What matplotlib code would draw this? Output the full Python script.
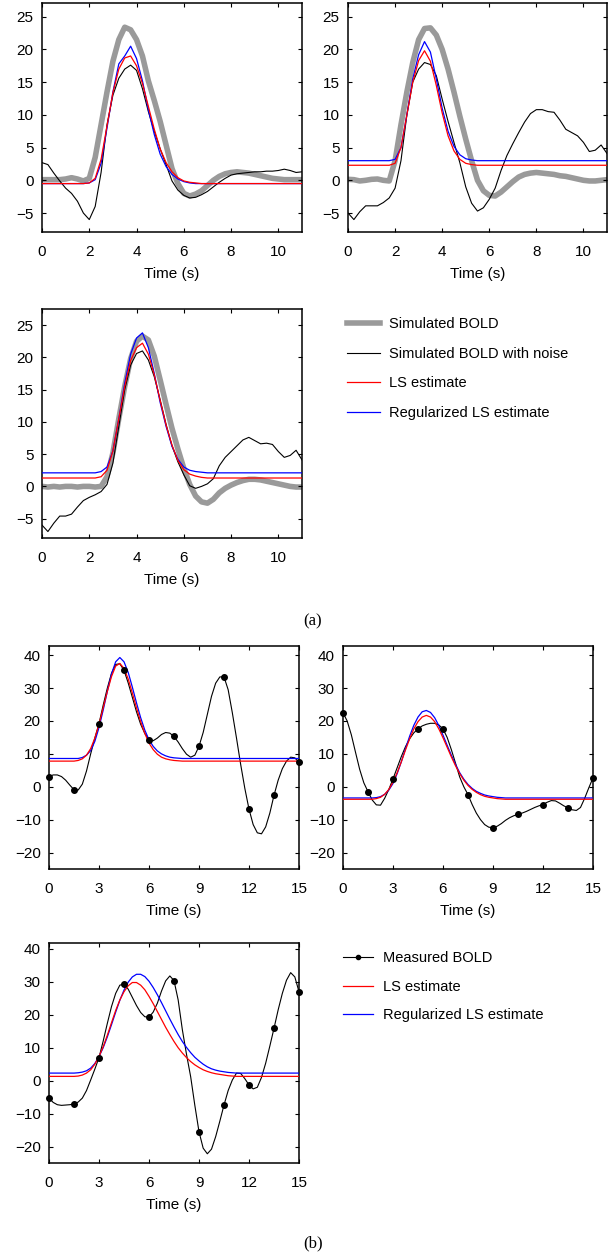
import numpy as np
import matplotlib
matplotlib.use("Agg")
import matplotlib.pyplot as plt
from matplotlib.lines import Line2D

plt.rcParams['font.family'] = ['Liberation Sans', 'DejaVu Sans']

# ---------------- (a) simulated data, sampled every 0.25 s from 0 to 11 s
t_a = np.arange(45) * 0.25

gray1 = [0.1, 0.1, 0.1, 0.1, 0.2, 0.4, 0.2, -0.1, 0.3, 3.5, 8.5, 13.5, 18.2, 21.5, 23.4, 23.0,
         21.5, 19.0, 15.2, 12.2, 9.0, 5.4, 1.8, -0.5, -2.0, -2.4, -2.1, -1.6, -0.8, 0.0, 0.6,
         1.0, 1.2, 1.3, 1.2, 1.1, 0.9, 0.7, 0.5, 0.3, 0.2, 0.1, 0.1, 0.1, 0.1]
noisy1 = [2.7, 2.4, 1.1, -0.1, -1.2, -2.0, -3.2, -5.0, -6.0, -4.0, 1.2, 8.5, 13.0, 15.6, 17.0,
          17.6, 16.8, 14.0, 10.5, 7.5, 4.8, 2.4, -0.1, -1.5, -2.3, -2.7, -2.6, -2.2, -1.7, -1.0,
          -0.3, 0.3, 0.8, 1.0, 1.1, 1.2, 1.3, 1.3, 1.4, 1.4, 1.5, 1.7, 1.5, 1.2, 1.3]
ls1 = [-0.5, -0.5, -0.5, -0.5, -0.5, -0.5, -0.5, -0.5, -0.4, 0.3, 3.2, 8.3, 13.4, 17.0, 18.7,
       19.0, 17.5, 14.8, 11.3, 7.8, 4.8, 2.7, 1.3, 0.4, -0.1, -0.3, -0.4, -0.5, -0.5, -0.5,
       -0.5, -0.5, -0.5, -0.5, -0.5, -0.5, -0.5, -0.5, -0.5, -0.5, -0.5, -0.5, -0.5, -0.5, -0.5]
rls1 = [-0.5, -0.5, -0.5, -0.5, -0.5, -0.5, -0.5, -0.5, -0.4, 0.1, 2.6, 8.0, 13.5, 17.8, 19.0,
        20.5, 18.6, 15.2, 10.8, 7.0, 4.0, 2.1, 0.9, 0.2, -0.2, -0.4, -0.5, -0.5, -0.5, -0.5,
        -0.5, -0.5, -0.5, -0.5, -0.5, -0.5, -0.5, -0.5, -0.5, -0.5, -0.5, -0.5, -0.5, -0.5, -0.5]

gray2 = [0.15, 0.1, -0.1, 0.0, 0.15, 0.2, 0.0, -0.1, 3.0, 8.5, 13.5, 18.0, 21.5, 23.2, 23.3,
         22.2, 20.0, 17.0, 13.5, 9.8, 6.3, 3.0, 0.0, -1.6, -2.3, -2.4, -1.8, -1.0, -0.2, 0.5,
         0.9, 1.1, 1.2, 1.1, 1.0, 0.9, 0.7, 0.6, 0.4, 0.2, 0.0, -0.1, -0.1, 0.0, 0.1]
noisy2 = [-5.0, -6.0, -4.8, -3.9, -3.9, -3.9, -3.4, -2.7, -1.2, 3.0, 10.0, 15.0, 17.0, 18.0, 17.7,
          16.0, 12.4, 9.0, 5.8, 2.7, -1.0, -3.5, -4.7, -4.2, -2.9, -1.2, 1.5, 3.8, 5.6, 7.3,
          8.9, 10.2, 10.8, 10.8, 10.5, 10.4, 9.2, 7.8, 7.3, 6.8, 5.8, 4.4, 4.6, 5.4, 4.1]
ls2 = [2.3, 2.3, 2.3, 2.3, 2.3, 2.3, 2.3, 2.3, 2.6, 5.0, 10.0, 15.0, 18.3, 19.8, 18.2, 14.5,
       10.3, 6.8, 4.5, 3.2, 2.6, 2.4, 2.3, 2.3, 2.3, 2.3, 2.3, 2.3, 2.3, 2.3, 2.3, 2.3, 2.3,
       2.3, 2.3, 2.3, 2.3, 2.3, 2.3, 2.3, 2.3, 2.3, 2.3, 2.3, 2.3]
rls2 = [3.0, 3.0, 3.0, 3.0, 3.0, 3.0, 3.0, 3.0, 3.2, 5.0, 10.0, 15.5, 19.2, 21.2, 19.6, 15.5,
        11.0, 7.5, 5.2, 3.9, 3.3, 3.1, 3.0, 3.0, 3.0, 3.0, 3.0, 3.0, 3.0, 3.0, 3.0, 3.0, 3.0,
        3.0, 3.0, 3.0, 3.0, 3.0, 3.0, 3.0, 3.0, 3.0, 3.0, 3.0, 3.0]

gray3 = [0.0, -0.1, 0.0, -0.1, 0.0, 0.0, -0.1, 0.0, 0.0, -0.1, 0.0, 1.5, 5.2, 10.5, 15.5, 19.8,
         22.5, 23.3, 22.7, 20.2, 16.5, 12.7, 9.0, 5.8, 2.8, 0.3, -1.5, -2.4, -2.6, -2.0, -1.0,
         -0.3, 0.2, 0.6, 0.9, 1.1, 1.1, 1.0, 0.8, 0.6, 0.4, 0.2, 0.0, -0.1, -0.1]
noisy3 = [-6.0, -7.0, -5.7, -4.6, -4.6, -4.3, -3.2, -2.2, -1.7, -1.3, -0.8, 0.3, 3.6, 9.3, 15.0,
          18.8, 20.6, 21.0, 19.6, 17.0, 13.4, 9.6, 6.3, 3.8, 1.8, 0.1, -0.3, 0.0, 0.4, 1.2,
          3.2, 4.5, 5.4, 6.3, 7.2, 7.6, 7.1, 6.6, 6.7, 6.5, 5.4, 4.5, 4.8, 5.6, 4.1]
ls3 = [1.3, 1.3, 1.3, 1.3, 1.3, 1.3, 1.3, 1.3, 1.3, 1.3, 1.5, 2.5, 5.5, 10.5, 15.5, 19.5, 21.5,
       22.2, 20.5, 17.3, 13.3, 9.5, 6.4, 4.0, 2.6, 1.9, 1.6, 1.4, 1.3, 1.3, 1.3, 1.3, 1.3, 1.3,
       1.3, 1.3, 1.3, 1.3, 1.3, 1.3, 1.3, 1.3, 1.3, 1.3, 1.3]
rls3 = [2.1, 2.1, 2.1, 2.1, 2.1, 2.1, 2.1, 2.1, 2.1, 2.1, 2.3, 3.0, 5.5, 10.5, 16.0, 20.5, 23.0,
        23.8, 21.5, 17.5, 13.0, 9.3, 6.2, 4.2, 3.0, 2.5, 2.3, 2.2, 2.1, 2.1, 2.1, 2.1, 2.1, 2.1,
        2.1, 2.1, 2.1, 2.1, 2.1, 2.1, 2.1, 2.1, 2.1, 2.1, 2.1]

# ---------------- (b) measured data: samples every 1.5 s, interpolated curve every 0.25 s
t_b = np.arange(61) * 0.25
meas_t = [0, 1.5, 3, 4.5, 6, 7.5, 9, 10.5, 12, 13.5, 15]

dots4 = [3.1, -0.9, 19.2, 35.4, 14.3, 15.3, 12.3, 33.4, -6.8, -2.6, 7.4]
curve4 = [3.1, 3.6, 3.6, 3.1, 2.0, 0.5, -0.9, -1.0, 0.8, 4.8, 10.0, 14.8, 19.2, 24.8, 30.0,
          34.5, 37.2, 37.4, 35.4, 31.6, 27.2, 22.8, 19.0, 16.2, 14.3, 14.0, 14.8, 15.9, 16.5,
          16.3, 15.3, 13.6, 11.6, 9.9, 9.0, 9.6, 12.3, 16.5, 22.0, 27.5, 31.5, 33.4, 33.4,
          29.5, 22.5, 14.8, 6.8, -0.5, -6.8, -11.5, -14.0, -14.3, -12.2, -8.0, -2.6, 2.0, 5.5,
          7.8, 9.0, 8.8, 7.4]
ls4 = [7.8, 7.8, 7.8, 7.8, 7.8, 7.8, 7.8, 8.0, 8.5, 9.6, 11.6, 14.8, 19.0, 24.0, 29.0, 33.5,
       36.7, 37.5, 36.0, 32.8, 28.5, 24.0, 19.8, 16.2, 13.3, 11.3, 9.9, 9.0, 8.5, 8.2, 8.0,
       7.9, 7.8, 7.8, 7.8, 7.8, 7.8, 7.8, 7.8, 7.8, 7.8, 7.8, 7.8, 7.8, 7.8, 7.8, 7.8, 7.8,
       7.8, 7.8, 7.8, 7.8, 7.8, 7.8, 7.8, 7.8, 7.8, 7.8, 7.8, 7.8, 7.8]
rls4 = [8.6, 8.6, 8.6, 8.6, 8.6, 8.6, 8.6, 8.6, 8.9, 9.6, 11.0, 13.8, 18.0, 23.3, 29.0, 34.3,
        38.0, 39.3, 38.0, 34.8, 30.3, 25.5, 21.0, 17.2, 14.3, 12.3, 10.9, 10.0, 9.4, 9.0, 8.8,
        8.7, 8.6, 8.6, 8.6, 8.6, 8.6, 8.6, 8.6, 8.6, 8.6, 8.6, 8.6, 8.6, 8.6, 8.6, 8.6, 8.6,
        8.6, 8.6, 8.6, 8.6, 8.6, 8.6, 8.6, 8.6, 8.6, 8.6, 8.6, 8.6, 8.6]

dots5 = [22.5, -1.5, 2.4, 17.6, 17.6, -2.4, -12.4, -8.4, -5.4, -6.4, 2.7]
curve5 = [22.5, 20.0, 15.8, 10.5, 5.3, 1.2, -1.5, -4.0, -5.5, -5.6, -3.5, -0.8, 2.4, 5.8, 9.2,
          12.2, 14.6, 16.4, 17.6, 18.5, 19.0, 19.3, 19.3, 18.8, 17.6, 15.0, 11.3, 7.2, 3.0, 0.0,
          -2.4, -5.4, -8.0, -10.0, -11.5, -12.3, -12.4, -12.0, -11.2, -10.2, -9.4, -8.8, -8.4,
          -8.0, -7.5, -6.9, -6.3, -5.8, -5.4, -4.7, -4.2, -4.3, -5.0, -5.8, -6.4, -7.0, -7.2,
          -6.3, -3.5, -0.3, 2.7]
ls5 = [-3.8, -3.8, -3.8, -3.8, -3.8, -3.8, -3.8, -3.8, -3.6, -3.2, -2.3, -0.8, 1.4, 4.3, 7.6,
       11.2, 14.6, 17.6, 19.8, 21.2, 21.7, 21.2, 19.8, 17.6, 14.9, 12.0, 9.1, 6.4, 4.0, 2.0,
       0.4, -0.8, -1.7, -2.4, -2.9, -3.2, -3.4, -3.6, -3.7, -3.8, -3.8, -3.8, -3.8, -3.8, -3.8,
       -3.8, -3.8, -3.8, -3.8, -3.8, -3.8, -3.8, -3.8, -3.8, -3.8, -3.8, -3.8, -3.8, -3.8,
       -3.8, -3.8]
rls5 = [-3.4, -3.4, -3.4, -3.4, -3.4, -3.4, -3.4, -3.4, -3.3, -3.0, -2.3, -1.0, 1.0, 4.0, 7.6,
        11.6, 15.4, 18.7, 21.2, 22.8, 23.2, 22.6, 21.0, 18.6, 15.7, 12.6, 9.6, 6.8, 4.3, 2.3,
        0.7, -0.5, -1.4, -2.0, -2.5, -2.8, -3.0, -3.2, -3.3, -3.4, -3.4, -3.4, -3.4, -3.4,
        -3.4, -3.4, -3.4, -3.4, -3.4, -3.4, -3.4, -3.4, -3.4, -3.4, -3.4, -3.4, -3.4, -3.4,
        -3.4, -3.4, -3.4]

dots6 = [-5.3, -7.1, 7.0, 29.3, 19.3, 30.4, -15.5, -7.4, -1.3, 15.9, 27.0]
curve6 = [-5.3, -6.6, -7.3, -7.5, -7.4, -7.3, -7.1, -6.5, -5.3, -3.0, 0.2, 3.5, 7.0, 12.0, 17.4,
          22.5, 26.5, 29.0, 29.3, 27.8, 25.3, 22.8, 20.7, 19.4, 19.3, 20.8, 23.5, 27.2, 30.3,
          31.8, 30.4, 24.5, 15.5, 8.0, 1.2, -7.5, -15.5, -20.5, -22.2, -20.8, -17.0, -12.3,
          -7.4, -3.0, 0.2, 2.3, 2.2, 0.6, -1.3, -2.5, -2.0, 1.0, 5.3, 10.5, 15.9, 21.5, 26.5,
          30.5, 32.8, 31.5, 27.0]
ls6 = [1.3, 1.3, 1.3, 1.3, 1.3, 1.3, 1.3, 1.4, 1.7, 2.3, 3.3, 5.0, 7.3, 10.3, 13.8, 17.6, 21.3,
       24.5, 27.0, 28.8, 29.8, 29.8, 29.0, 27.6, 25.6, 23.4, 21.0, 18.6, 16.2, 14.0, 11.9,
       10.0, 8.4, 7.0, 5.8, 4.8, 4.0, 3.3, 2.8, 2.4, 2.1, 1.9, 1.7, 1.5, 1.4, 1.3, 1.3, 1.3,
       1.3, 1.3, 1.3, 1.3, 1.3, 1.3, 1.3, 1.3, 1.3, 1.3, 1.3, 1.3, 1.3]
rls6 = [2.3, 2.3, 2.3, 2.3, 2.3, 2.3, 2.3, 2.4, 2.6, 3.0, 3.8, 5.2, 7.3, 10.0, 13.3, 17.0, 20.8,
        24.4, 27.5, 29.9, 31.5, 32.3, 32.3, 31.6, 30.2, 28.3, 26.1, 23.7, 21.2, 18.7, 16.3,
        14.0, 11.9, 10.1, 8.5, 7.1, 6.0, 5.0, 4.2, 3.6, 3.2, 2.9, 2.7, 2.5, 2.4, 2.3, 2.3,
        2.3, 2.3, 2.3, 2.3, 2.3, 2.3, 2.3, 2.3, 2.3, 2.3, 2.3, 2.3, 2.3, 2.3]

xticks_a = [0, 2, 4, 6, 8, 10]
yticks_a = [-5, 0, 5, 10, 15, 20, 25]
xticks_b = [0, 3, 6, 9, 12, 15]
yticks_b = [-20, -10, 0, 10, 20, 30, 40]

legend_a = ["Simulated BOLD", "Simulated BOLD with noise", "LS estimate", "Regularized LS estimate"]
legend_b = ["Measured BOLD", "LS estimate", "Regularized LS estimate"]

GRAY = "#9a9a9a"
W, H = 616, 1258
fig = plt.figure(figsize=(W / 100, H / 100), dpi=100)


def add_ax(left, top, right, bottom):
    return fig.add_axes([left / W, 1 - bottom / H, (right - left) / W, (bottom - top) / H])


def style(ax, xlim, ylim, xt, yt):
    ax.set_xlim(*xlim)
    ax.set_ylim(*ylim)
    ax.set_xticks(xt)
    ax.set_yticks(yt)
    ax.tick_params(direction='in', top=True, right=True, length=3.2, width=0.8,
                   labelsize=11, colors='black')
    ax.tick_params(axis='x', pad=9.5)
    ax.tick_params(axis='y', pad=6)
    for s in ax.spines.values():
        s.set_linewidth(1.1)
    ax.set_xlabel("Time (s)", fontsize=11, labelpad=5.5)


panels_a = [
    ((42, 3, 302, 232), gray1, noisy1, ls1, rls1, (-7.9, 27.1)),
    ((348, 3, 607, 232), gray2, noisy2, ls2, rls2, (-7.9, 27.1)),
    ((42, 309, 302, 538), gray3, noisy3, ls3, rls3, (-8.0, 27.5)),
]
for box, g, n, l, r, yl in panels_a:
    ax = add_ax(*box)
    ax.plot(t_a, g, color=GRAY, lw=4.0, solid_joinstyle='round', zorder=1)
    ax.plot(t_a, n, color='black', lw=0.8, zorder=2)
    ax.plot(t_a, r, color='blue', lw=0.9, zorder=3)
    ax.plot(t_a, l, color='red', lw=0.9, zorder=4)
    style(ax, (0, 11), yl, xticks_a, yticks_a)

panels_b = [
    ((49, 646, 299, 869), dots4, curve4, ls4, rls4, (-25, 42.8)),
    ((343, 646, 593, 869), dots5, curve5, ls5, rls5, (-25, 42.8)),
    ((49, 943, 299, 1163), dots6, curve6, ls6, rls6, (-25, 41.8)),
]
for box, d, c, l, r, yl in panels_b:
    ax = add_ax(*box)
    ax.plot(t_b, c, color='black', lw=0.8, zorder=2)
    ax.plot(meas_t, d, ls='none', marker='o', ms=4, color='black', zorder=5, clip_on=False)
    ax.plot(t_b, r, color='blue', lw=0.9, zorder=3)
    ax.plot(t_b, l, color='red', lw=0.9, zorder=4)
    style(ax, (0, 15), yl, xticks_b, yticks_b)

handles_a = [Line2D([], [], color=GRAY, lw=4.0),
             Line2D([], [], color='black', lw=0.8),
             Line2D([], [], color='red', lw=0.9),
             Line2D([], [], color='blue', lw=0.9)]
fig.legend(handles_a, legend_a, loc='upper left', bbox_to_anchor=(347 / W, 1 - 317.5 / H),
           frameon=False, fontsize=10.5, handlelength=2.26, handletextpad=0.62,
           labelspacing=1.06, borderpad=0, borderaxespad=0)

handles_b = [Line2D([], [], color='black', lw=0.8, marker='o', ms=3),
             Line2D([], [], color='red', lw=0.9),
             Line2D([], [], color='blue', lw=0.9)]
fig.legend(handles_b, legend_b, loc='upper left', bbox_to_anchor=(343 / W, 1 - 951.5 / H),
           frameon=False, fontsize=10.5, handlelength=2.06, handletextpad=0.69,
           labelspacing=0.98, borderpad=0, borderaxespad=0)

fig.text(313 / W, 1 - 621 / H, "(a)", ha='center', va='center', fontsize=12,
         family=['Liberation Serif', 'DejaVu Serif'])
fig.text(313 / W, 1 - 1243 / H, "(b)", ha='center', va='center', fontsize=12,
         family=['Liberation Serif', 'DejaVu Serif'])

fig.savefig("out.png", dpi=100)
